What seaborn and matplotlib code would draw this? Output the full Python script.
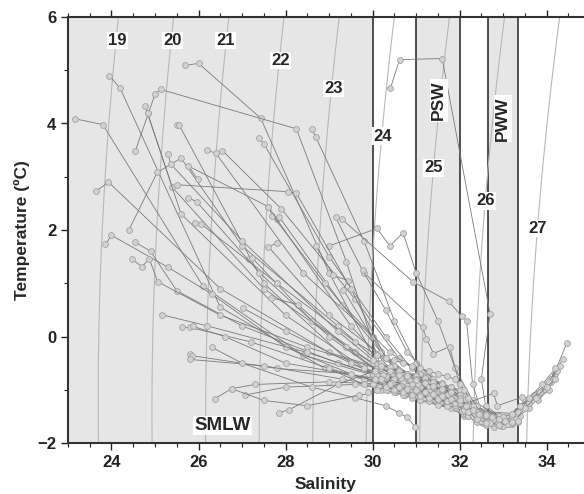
import numpy as np
import pandas as pd
import seaborn as sns
import matplotlib.pyplot as plt
from matplotlib.ticker import MultipleLocator

# station profiles, surface first (salinity / temperature in degC)
station_sal = [
    [23.15, 23.8, 26.1, 28.4, 29.9, 30.4, 30.9, 31.5, 32.1, 32.6, 33.1],
    [23.95, 24.2, 26.5, 28.9, 30.2, 30.7, 31.3, 31.9, 32.4, 32.9],
    [25.7, 26.0, 27.43, 29.0, 30.1, 30.6, 31.2, 31.8, 32.4, 33.0, 33.3],
    [24.83, 25.4, 27.5, 29.6, 30.4, 31.0, 31.7, 32.3, 33.1, 33.6, 34.1, 34.46],
    [24.55, 25.0, 25.13, 28.25, 29.4, 30.2, 30.8, 31.4, 32.0, 32.7],
    [24.78, 24.83, 25.6, 28.0, 30.0, 30.5, 31.1, 31.9, 32.6, 33.2],
    [25.5, 25.55, 27.5, 29.5, 30.3, 30.8, 31.5, 32.1, 32.9],
    [26.2, 26.4, 28.4, 30.0, 30.5, 31.2, 31.8, 32.4, 33.3, 33.8, 34.2],
    [26.55, 27.9, 29.6, 30.6, 31.3, 32.0, 32.6, 33.2],
    [23.65, 23.93, 26.5, 29.0, 30.2, 30.9, 31.6, 32.2],
    [24.4, 25.05, 25.6, 27.0, 29.2, 30.3, 30.9, 31.5, 32.3, 32.8],
    [23.86, 24.0, 25.3, 26.3, 28.0, 29.8, 30.6, 31.4, 32.1, 32.7],
    [24.55, 24.9, 25.5, 27.0, 29.2, 30.4, 31.0, 31.6],
    [24.46, 24.7, 24.87, 25.06, 26.5, 28.5, 30.1, 30.8, 31.5, 32.2],
    [25.15, 26.2, 28.5, 30.0, 30.7, 31.5, 32.3, 32.9],
    [25.63, 25.8, 27.2, 29.0, 30.4, 31.0, 31.8, 32.5],
    [25.88, 26.6, 28.0, 30.1, 30.8, 31.6, 32.4],
    [25.8, 25.85, 27.8, 29.5, 30.5, 31.3, 32.2, 32.9],
    [25.8, 27.5, 29.3, 30.3, 30.9, 31.7],
    [26.37, 26.76, 27.3, 29.0, 30.3, 30.9, 31.6],
    [27.06, 28.0, 29.6, 30.6, 31.4, 32.1],
    [27.84, 28.07, 29.2, 30.2, 30.8, 31.3],
    [26.3, 27.0, 28.6, 29.6, 30.3, 30.6, 30.8, 30.97],
    [27.4, 27.5, 29.0, 30.3, 30.9, 31.5, 32.2, 32.9],
    [28.6, 28.7, 29.8, 30.5, 31.0, 31.6, 32.3, 33.0, 33.5, 34.0, 34.37],
    [27.8, 27.85, 29.3, 30.4, 31.1, 31.9, 32.5, 33.1],
    [30.41, 30.62, 31.6, 32.7, 32.5, 32.6, 33.0],
    [29.0, 30.1, 30.4, 30.7, 31.0, 31.5, 31.9, 32.3, 32.9],
    [29.3, 30.94, 31.75, 32.05, 32.16, 32.3, 32.5, 33.0],
    [29.8, 31.15, 31.24, 31.4, 31.77, 32.0, 32.4, 32.8],
    [27.6, 27.7, 28.9, 30.2, 30.8, 31.5, 32.1, 32.7, 33.3, 33.7, 34.0, 34.25],
    [27.8, 27.6, 29.0, 30.3, 31.0, 31.7, 32.4, 33.0, 33.4, 33.95, 34.1],
    [27.15, 27.24, 28.6, 30.0, 30.6, 31.3, 32.0, 32.78, 32.87, 33.43, 33.8, 34.05],
    [27.66, 28.28, 29.4, 30.2, 30.7, 31.2, 31.9, 32.5],
    [27.03, 28.0, 29.5, 30.3, 31.0, 31.6, 32.2],
    [29.15, 29.77, 30.3, 30.8, 31.4, 32.0, 32.6, 33.2],
    [28.7, 29.1, 29.43, 29.33, 30.2, 30.8, 31.5],
    [25.5, 28.05, 28.25, 29.5, 30.3, 30.9, 31.6, 32.3],
    [25.98, 25.77, 27.6, 29.5, 30.4, 31.1, 31.8],
    [25.93, 26.05, 27.8, 29.6, 30.5, 31.2, 32.0, 32.6],
    [25.3, 25.36, 27.0, 29.2, 30.1, 30.7, 31.3],
    [25.77, 25.97, 27.4, 29.0, 30.2, 30.9, 31.6, 32.3, 33.0, 33.4],
    [26.76, 27.5, 28.5, 29.7, 30.5, 31.1, 31.8, 32.5, 33.1],
    [29.0, 29.8, 30.2, 30.5, 30.8, 31.0, 31.4],
    # offshore stations, saltier at the surface
    [30.0, 30.2, 30.4, 30.6, 30.8, 31.0, 31.2, 31.4, 31.6, 31.8, 32.0, 32.2, 32.4, 32.6],
    [30.1, 30.3, 30.5, 30.7, 30.9, 31.1, 31.3, 31.5, 31.7, 31.9, 32.1, 32.3, 32.5, 32.7, 32.9, 33.1],
    [30.0, 30.15, 30.35, 30.55, 30.75, 30.95, 31.15, 31.35, 31.55, 31.75, 31.95, 32.15, 32.35,
     32.55, 32.75, 32.95, 33.15, 33.35],
    [29.8, 30.05, 30.25, 30.45, 30.65, 30.85, 31.05, 31.3, 31.55, 31.8, 32.05, 32.25, 32.45, 32.65, 32.85],
    [30.2, 30.4, 30.6, 30.8, 31.0, 31.2, 31.4, 31.6, 31.8, 32.0, 32.1, 32.2, 32.35, 32.5, 32.7,
     32.9, 33.1, 33.3],
    [30.3, 30.5, 30.7, 30.9, 31.1, 31.3, 31.5, 31.7, 31.9, 32.05, 32.2, 32.4, 32.6, 32.8, 33.0, 33.2],
    [30.1, 30.3, 30.5, 30.7, 30.9, 31.1, 31.3, 31.5, 31.7, 31.9, 32.0, 32.1, 32.2, 32.3],
    [31.0, 31.2, 31.4, 31.6, 31.8, 32.0, 32.15, 32.3, 32.45, 32.6, 32.75, 32.9, 33.05, 33.2, 33.35,
     33.6, 33.85, 34.05, 34.3],
    [30.05, 30.25, 30.45, 30.65, 30.85, 31.05, 31.25, 31.45, 31.65, 31.85, 32.05, 32.25, 32.45,
     32.65, 32.85, 33.05],
    [31.1, 31.3, 31.5, 31.7, 31.9, 32.1, 32.3, 32.5, 32.7, 32.9, 33.1, 33.3, 33.5, 33.75, 34.0, 34.2],
    [29.9, 30.1, 30.3, 30.5, 30.7, 30.9, 31.1, 31.3, 31.5, 31.7, 31.9, 32.1, 32.3, 32.5],
    [30.4, 30.6, 30.8, 31.0, 31.2, 31.4, 31.6, 31.8, 32.0, 32.2, 32.4, 32.6, 32.8, 33.0, 33.2,
     33.4, 33.6, 33.9, 34.2],
    [30.2, 30.4, 30.6, 30.8, 31.0, 31.2, 31.4, 31.6, 31.8, 32.0, 32.2, 32.4, 32.6],
    [32.0, 32.15, 32.3, 32.45, 32.6, 32.75, 32.9, 33.05, 33.2, 33.35],
]
station_temp = [
    [4.09, 3.98, 0.95, -0.35, -0.7, -0.85, -0.95, -1.15, -1.4, -1.6, -1.62],
    [4.9, 4.66, 0.55, -0.6, -0.9, -1.0, -1.1, -1.3, -1.55, -1.65],
    [5.09, 5.13, 4.1, 1.2, -0.5, -0.7, -0.9, -1.2, -1.5, -1.6, -1.55],
    [4.19, 2.8, 0.9, -0.3, -0.7, -0.85, -1.05, -1.45, -1.65, -1.35, -0.85, -0.13],
    [3.49, 4.55, 4.64, 3.9, 1.4, -0.6, -0.8, -1.0, -1.25, -1.5],
    [4.33, 4.19, 2.3, 0.4, -0.7, -0.9, -1.0, -1.3, -1.6, -1.6],
    [3.97, 3.98, 1.0, -0.5, -0.75, -0.95, -1.15, -1.5, -1.55],
    [3.5, 3.44, 1.2, 0.0, -0.6, -0.8, -1.0, -1.4, -1.45, -1.1, -0.7],
    [3.49, 2.4, 0.7, -0.4, -0.75, -1.1, -1.5, -1.6],
    [2.73, 2.9, 0.9, -0.3, -0.6, -0.8, -1.0, -1.35],
    [2.0, 3.08, 3.35, 1.7, 0.2, -0.6, -0.85, -1.05, -1.4, -1.6],
    [1.73, 1.9, 1.3, 0.8, -0.2, -0.8, -1.0, -1.1, -1.35, -1.55],
    [1.77, 1.6, 0.86, 0.2, -0.5, -0.8, -0.95, -1.1],
    [1.46, 1.31, 1.46, 1.03, 0.4, -0.2, -0.6, -0.75, -0.95, -1.3],
    [0.41, 0.2, -0.3, -0.7, -0.9, -1.0, -1.3, -1.6],
    [0.17, 0.17, -0.1, -0.6, -0.9, -1.05, -1.2, -1.5],
    [0.19, 0.0, -0.5, -0.8, -1.0, -1.15, -1.45],
    [-0.32, -0.36, -0.6, -0.7, -0.95, -1.1, -1.4, -1.6],
    [-0.43, -0.55, -0.8, -0.95, -1.05, -1.2],
    [-1.17, -0.98, -0.9, -0.85, -0.9, -1.05, -1.25],
    [-1.1, -0.95, -0.9, -1.0, -1.15, -1.45],
    [-1.43, -1.38, -0.9, -0.6, -0.75, -0.9],
    [-0.2, -0.5, -0.95, -1.15, -1.3, -1.43, -1.52, -1.69],
    [3.72, 3.62, 1.5, 0.0, -0.6, -0.9, -1.25, -1.5],
    [3.9, 3.74, 1.8, 0.3, -0.5, -0.95, -1.35, -1.6, -1.2, -0.9, -0.43],
    [2.2, 2.25, 0.6, -0.3, -0.7, -1.05, -1.45, -1.6],
    [4.66, 5.2, 5.22, 0.43, -0.8, -1.3, -1.55],
    [1.7, 2.03, 1.7, 1.95, 1.2, 0.3, -0.6, -1.2, -1.5],
    [2.2, 1.02, 0.66, 0.38, 0.3, -0.9, -1.4, -1.55],
    [1.2, 0.17, -0.04, -0.32, -0.19, -0.9, -1.3, -1.55],
    [2.44, 2.27, 1.0, -0.3, -0.7, -0.95, -1.25, -1.55, -1.45, -1.1, -0.95, -0.64],
    [1.75, 1.69, 0.4, -0.4, -0.8, -1.1, -1.5, -1.6, -1.3, -0.98, -0.79],
    [1.46, 1.47, 0.3, -0.5, -0.8, -1.0, -1.3, -1.07, -1.3, -1.14, -1.2, -1.0],
    [0.73, 0.6, -0.2, -0.7, -0.85, -1.1, -1.35, -1.55],
    [0.53, 0.1, -0.5, -0.8, -0.95, -1.2, -1.5],
    [2.24, 1.24, 0.5, -0.3, -0.8, -1.1, -1.45, -1.65],
    [1.7, 1.15, 1.05, 0.88, -0.3, -0.7, -0.95],
    [2.85, 2.72, 2.69, 0.9, -0.4, -0.75, -1.0, -1.4],
    [2.95, 3.2, 2.44, 0.2, -0.6, -0.85, -1.1],
    [2.14, 2.12, 1.0, -0.1, -0.55, -0.85, -1.2, -1.5],
    [3.43, 3.24, 1.8, 0.1, -0.5, -0.7, -0.85],
    [2.61, 2.52, 1.2, 0.0, -0.7, -0.9, -1.15, -1.5, -1.65, -1.5],
    [-0.98, -1.2, -1.3, -1.1, -1.0, -1.2, -1.35, -1.6, -1.62],
    [-0.6, -0.9, -1.0, -0.7, -0.9, -0.8, -1.0],
    [-0.45, -0.5, -0.6, -0.62, -0.7, -0.72, -0.8, -0.85, -0.88, -0.95, -1.05, -1.25, -1.45, -1.55],
    [-0.7, -0.75, -0.8, -0.85, -0.9, -0.95, -1.0, -1.05, -1.1, -1.15, -1.3, -1.4, -1.5, -1.55,
     -1.6, -1.62],
    [-0.9, -0.95, -1.0, -1.05, -1.1, -1.12, -1.18, -1.2, -1.25, -1.28, -1.35, -1.45, -1.55,
     -1.62, -1.65, -1.68, -1.65, -1.6],
    [-0.6, -0.65, -0.72, -0.68, -0.78, -0.8, -0.9, -0.92, -1.0, -1.02, -1.12, -1.3, -1.48, -1.58, -1.6],
    [-0.55, -0.58, -0.65, -0.7, -0.75, -0.78, -0.85, -0.9, -0.95, -1.0, -1.2, -1.35, -1.42, -1.5,
     -1.52, -1.55, -1.5, -1.45],
    [-1.0, -1.05, -1.1, -1.15, -1.2, -1.22, -1.28, -1.3, -1.32, -1.4, -1.5, -1.6, -1.66, -1.7,
     -1.68, -1.62],
    [-0.35, -0.4, -0.45, -0.5, -0.55, -0.6, -0.65, -0.7, -0.75, -0.8, -0.9, -1.0, -1.15, -1.3],
    [-0.8, -0.85, -0.95, -1.0, -1.05, -1.1, -1.3, -1.45, -1.55, -1.6, -1.62, -1.6, -1.58, -1.5,
     -1.42, -1.25, -1.05, -0.85, -0.55],
    [-0.8, -0.82, -0.88, -0.92, -0.98, -1.02, -1.08, -1.12, -1.15, -1.2, -1.3, -1.42, -1.52,
     -1.6, -1.64, -1.6],
    [-1.1, -1.15, -1.2, -1.22, -1.28, -1.35, -1.5, -1.58, -1.62, -1.66, -1.64, -1.55, -1.35,
     -1.15, -0.95, -0.8],
    [-1.05, -1.0, -0.95, -1.0, -1.05, -1.1, -1.12, -1.15, -1.18, -1.22, -1.25, -1.38, -1.5, -1.58],
    [-0.65, -0.72, -0.75, -0.82, -0.88, -0.92, -0.98, -1.05, -1.15, -1.3, -1.42, -1.5, -1.55,
     -1.52, -1.45, -1.3, -1.15, -0.9, -0.6],
    [-0.8, -0.9, -0.95, -0.98, -1.0, -1.05, -1.08, -1.12, -1.18, -1.25, -1.42, -1.55, -1.62],
    [-1.2, -1.3, -1.38, -1.45, -1.48, -1.52, -1.55, -1.58, -1.6, -1.58],
]

sigma_levels = [19, 20, 21, 22, 23, 24, 25, 26, 27]
sigma_label_sal = [24.14, 25.4, 26.62, 27.88, 29.1, 30.23, 31.4, 32.6, 33.8]
sigma_label_temp = [5.56, 5.56, 5.56, 5.18, 4.66, 3.76, 3.17, 2.55, 2.03]

water_names = ["SMLW", "PSW", "PWW"]
water_sal_lo = [23.0, 31.0, 32.65]
water_sal_hi = [30.0, 32.0, 33.35]


def sigma_t(S, T):
    # EOS-80 density at the surface, minus 1000
    rho_w = (999.842594 + 6.793952e-2 * T - 9.095290e-3 * T**2
             + 1.001685e-4 * T**3 - 1.120083e-6 * T**4 + 6.536332e-9 * T**5)
    A = 8.24493e-1 - 4.0899e-3 * T + 7.6438e-5 * T**2 - 8.2467e-7 * T**3 + 5.3875e-9 * T**4
    B = -5.72466e-3 + 1.0227e-4 * T - 1.6546e-6 * T**2
    C = 4.8314e-4
    return rho_w + A * S + B * S**1.5 + C * S**2 - 1000


rows = []
for i, (ss, tt) in enumerate(zip(station_sal, station_temp)):
    for k, (s, t) in enumerate(zip(ss, tt)):
        rows.append({"station": i, "depth_idx": k, "sal": s, "temp": t})
df = pd.DataFrame(rows)

sns.set_style("ticks")
plt.rcParams["font.family"] = ["Liberation Sans", "DejaVu Sans"]
plt.rcParams["font.weight"] = "bold"

fig = plt.figure(figsize=(5.84, 4.94), dpi=100)
ax = fig.add_axes([0.1164, 0.1032, 0.8836, 0.8624])

# water mass boxes
for name, lo, hi in zip(water_names, water_sal_lo, water_sal_hi):
    ax.axvspan(lo, hi, facecolor="#e6e6e6", edgecolor="#333333", lw=1.2, zorder=0)

# sigma-t isopleths
sg, tg = np.meshgrid(np.linspace(22, 36, 300), np.linspace(-2.5, 6.5, 200))
ax.contour(sg, tg, sigma_t(sg, tg), levels=sigma_levels, colors="#b8b8b8",
           linewidths=0.8, zorder=1)

sns.lineplot(data=df, x="sal", y="temp", units="station", estimator=None,
             sort=False, color="#7a7a7a", lw=0.6, marker="o", markersize=4.2,
             markerfacecolor="#d2d2d2", markeredgecolor="#a2a2a2",
             markeredgewidth=0.6, legend=False, ax=ax, zorder=2)

for lev, s, t in zip(sigma_levels, sigma_label_sal, sigma_label_temp):
    ax.text(s, t, str(lev), fontsize=12, fontweight="bold", ha="center", va="center",
            bbox=dict(facecolor="white", edgecolor="none", pad=1), zorder=4)

ax.text(31.52, 4.43, "PSW", rotation=90, fontsize=12.5, fontweight="bold",
        ha="center", va="center", bbox=dict(facecolor="white", edgecolor="none", pad=1), zorder=4)
ax.text(32.99, 4.09, "PWW", rotation=90, fontsize=12.5, fontweight="bold",
        ha="center", va="center", bbox=dict(facecolor="white", edgecolor="none", pad=1), zorder=4)
ax.text(26.55, -1.67, "SMLW", fontsize=13.5, fontweight="bold",
        ha="center", va="center", bbox=dict(facecolor="white", edgecolor="none", pad=1), zorder=4)

ax.set_xlim(23.0, 34.86)
ax.set_ylim(-2, 6)
ax.xaxis.set_major_locator(MultipleLocator(2))
ax.xaxis.set_minor_locator(MultipleLocator(0.5))
ax.yaxis.set_major_locator(MultipleLocator(2))
ax.yaxis.set_minor_locator(MultipleLocator(1))
ax.tick_params(which="both", direction="out", top=True, right=False, colors="#222222")
ax.tick_params(which="major", length=5, width=1, labelsize=12)
ax.tick_params(which="minor", length=3, width=0.8)
for lab in ax.get_xticklabels() + ax.get_yticklabels():
    lab.set_fontweight("bold")
for side in ["left", "bottom", "top"]:
    ax.spines[side].set_color("#333333")
    ax.spines[side].set_linewidth(1.5)
ax.spines["right"].set_visible(False)

ax.set_xlabel("Salinity", fontsize=12.5, fontweight="bold", labelpad=5)
ax.set_ylabel("Temperature (ºC)", fontsize=12.5, fontweight="bold", labelpad=5)

fig.savefig("out.png", dpi=100)
